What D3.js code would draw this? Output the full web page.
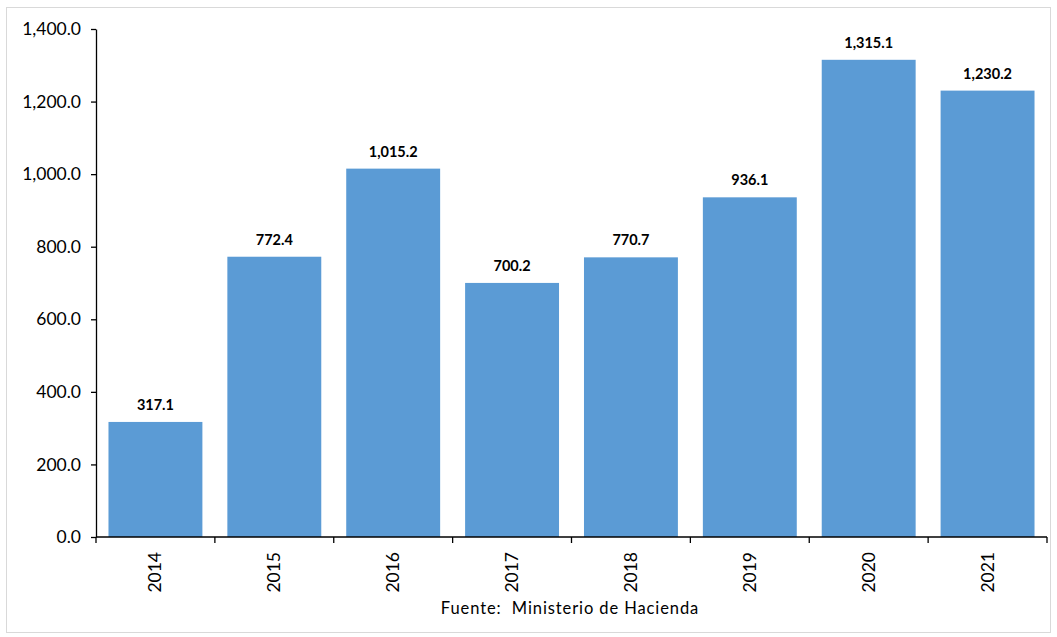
<!DOCTYPE html>
<html>
<head>
<meta charset="utf-8">
<script src="https://cdn.jsdelivr.net/npm/d3@7"></script>
<style>
  body { margin: 0; background: #fff; }
  svg text { font-family: Lato, "Open Sans", sans-serif; fill: #000; }
</style>
</head>
<body>
<svg id="chart" width="1057" height="637"></svg>
<script>
const years = ['2014', '2015', '2016', '2017', '2018', '2019', '2020', '2021'];
const values = [317.1, 772.4, 1015.2, 700.2, 770.7, 936.1, 1315.1, 1230.2];
const yTicks = [0, 200, 400, 600, 800, 1000, 1200, 1400];
const source = 'Fuente:  Ministerio de Hacienda';

const svg = d3.select('#chart');
const margin = { top: 29, right: 10, bottom: 100, left: 96 };
const W = 1057, H = 637;
const width = W - margin.left - margin.right;
const height = 537 - margin.top;

// outer border
svg.append('rect')
  .attr('x', 6.5).attr('y', 7.5)
  .attr('width', 1044).attr('height', 625)
  .attr('fill', 'none')
  .attr('stroke', '#d9d9d9');

const g = svg.append('g').attr('transform', `translate(${margin.left},${margin.top})`);

const x = d3.scaleBand().domain(years).range([0, width]).paddingInner(0.21).paddingOuter(0.105);
const y = d3.scaleLinear().domain([0, 1400]).range([height, 0]);
const fmt = d3.format(',.1f');

// bars
g.selectAll('.bar')
  .data(values)
  .enter().append('rect')
  .attr('class', 'bar')
  .attr('x', (d, i) => x(years[i]))
  .attr('y', d => y(d))
  .attr('width', x.bandwidth())
  .attr('height', d => height - y(d))
  .attr('fill', '#5B9BD5');

// value labels
g.selectAll('.val')
  .data(values)
  .enter().append('text')
  .attr('class', 'val')
  .attr('x', (d, i) => x(years[i]) + x.bandwidth() / 2)
  .attr('y', d => y(d) - 12)
  .attr('text-anchor', 'middle')
  .style('font-size', '14.5px')
  .style('font-weight', 'bold')
  .text(d => fmt(d));

// y axis
const yAxis = d3.axisLeft(y).tickValues(yTicks).tickFormat(fmt).tickSize(5).tickSizeOuter(0);
const ya = g.append('g').call(yAxis);
ya.selectAll('text').style('font-size', '17.5px').attr('x', -15);
ya.selectAll('line, path').attr('stroke', '#000').attr('stroke-width', 1.3);

// x axis with category boundary ticks
const xa = g.append('g').attr('transform', `translate(0,${height})`);
xa.append('line')
  .attr('x1', 0).attr('x2', width)
  .attr('stroke', '#000').attr('stroke-width', 1.3);
const step = width / years.length;
xa.selectAll('.tk')
  .data(d3.range(years.length + 1))
  .enter().append('line')
  .attr('x1', i => i * step).attr('x2', i => i * step)
  .attr('y1', 0).attr('y2', 6)
  .attr('stroke', '#000').attr('stroke-width', 1.3);
xa.selectAll('.lbl')
  .data(years)
  .enter().append('text')
  .attr('transform', d => `translate(${x(d) + x.bandwidth() / 2 + 6},15) rotate(-90)`)
  .attr('text-anchor', 'end')
  .style('font-size', '17.5px')
  .text(d => d);

svg.append('text')
  .attr('x', 570).attr('y', 614)
  .attr('text-anchor', 'middle')
  .style('font-size', '16.5px')
  .style('letter-spacing', '0.9px')
  .style('white-space', 'pre')
  .text(source);
</script>
</body>
</html>
